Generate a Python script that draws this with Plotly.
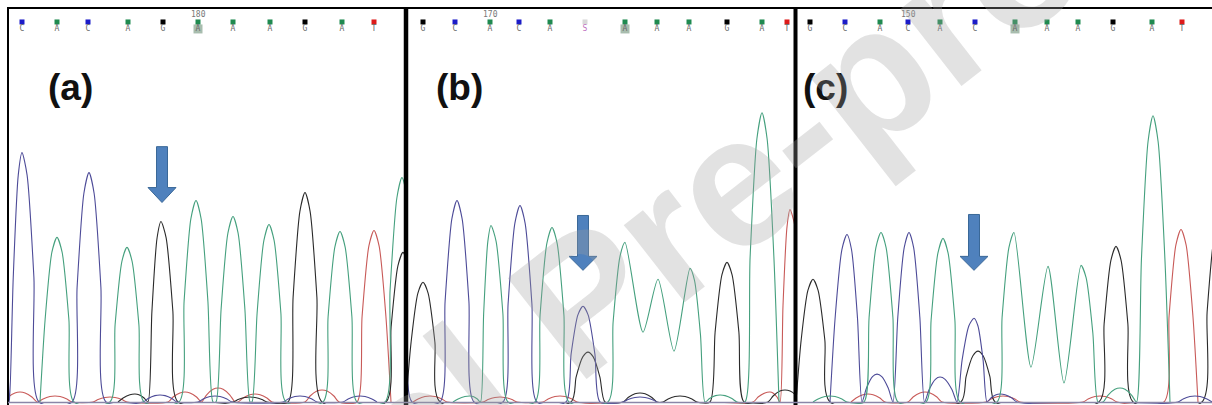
import plotly.graph_objects as go

# ---------------- data (scan position, signal height) ----------------
FOOT = 17  # half width of a peak foot, in scan units
# peak outline template: (fraction of foot width from apex, fraction of apex height)
PROFILE = [(0.3, 0.91), (0.7, 0.5), (1.0, 0.0)]

# Panel (a)
A_PEAKS_A = [(57, 165), (127, 155), (196, 202), (233, 186), (269, 178), (340, 171), (402, 225)]
A_PEAKS_C = [(-3, 220), (22, 250), (89, 230), (160, 7), (215, 6), (300, 6), (360, 6)]
A_PEAKS_G = [(135, 8), (161, 181), (250, 5), (305, 210), (403, 150)]
A_PEAKS_T = [(20, 10), (55, 6), (110, 5), (185, 10), (218, 14), (255, 8), (322, 12), (374, 172)]
A_VALLEYS = {"A": [], "C": [], "G": [], "T": []}

# Panel (b)
B_PEAKS_A = [(470, 6), (491, 177), (552, 175), (625, 160), (658, 123), (690, 134), (720, 7), (762, 290)]
B_PEAKS_C = [(395, 150), (457, 202), (520, 197), (583, 96), (640, 5)]
B_PEAKS_G = [(423, 120), (588, 50), (640, 9), (680, 6), (727, 140), (785, 12)]
B_PEAKS_T = [(430, 6), (500, 5), (560, 6), (770, 10), (790, 193)]
B_VALLEYS = {"A": [(643, 70), (674, 51)], "C": [], "G": [], "T": []}

# Panel (c)
C_PEAKS_A = [(830, 6), (881, 170), (943, 164), (1014, 170), (1048, 136), (1081, 137), (1120, 14), (1153, 287)]
C_PEAKS_C = [(847, 168), (877, 28), (909, 170), (940, 25), (974, 84), (1000, 8), (1195, 6)]
C_PEAKS_G = [(813, 123), (978, 51), (1116, 156), (1219, 180)]
C_PEAKS_T = [(868, 8), (925, 10), (1003, 6), (1100, 6), (1181, 173)]
C_VALLEYS = {"A": [(1031, 35), (1064, 19)], "C": [], "G": [], "T": []}

# base-call header rows
HDR_A_X = [22, 57, 88, 128, 163, 198, 233, 270, 305, 342, 374]
HDR_A_BASES = list("CACAGAAAGAT")
HDR_B_X = [423, 455, 490, 519, 550, 585, 625, 657, 689, 727, 762, 787]
HDR_B_BASES = list("GCACASAAAGAT")
HDR_C_X = [810, 845, 880, 908, 940, 975, 1015, 1047, 1078, 1113, 1152, 1182]
HDR_C_BASES = list("GCACACAAAGAT")
HDR_TICKS = [("180", 198), ("170", 490), ("150", 908)]
HDR_HIGHLIGHT = [198, 625, 1015]

# arrows: centre, top, head base, tip (heights)
ARROWS = [(162, 256, 215, 200), (583, 187, 146, 132), (974, 188, 146, 132)]
LABELS = [("(a)", 70), ("(b)", 459), ("(c)", 825)]

PANELS = [
    dict(peaks={"A": A_PEAKS_A, "C": A_PEAKS_C, "G": A_PEAKS_G, "T": A_PEAKS_T},
         valleys=A_VALLEYS, hx=HDR_A_X, hb=HDR_A_BASES, rng=(8, 405)),
    dict(peaks={"A": B_PEAKS_A, "C": B_PEAKS_C, "G": B_PEAKS_G, "T": B_PEAKS_T},
         valleys=B_VALLEYS, hx=HDR_B_X, hb=HDR_B_BASES, rng=(408, 795)),
    dict(peaks={"A": C_PEAKS_A, "C": C_PEAKS_C, "G": C_PEAKS_G, "T": C_PEAKS_T},
         valleys=C_VALLEYS, hx=HDR_C_X, hb=HDR_C_BASES, rng=(797, 1212)),
]

TRACE_COL = {"A": "#45a07e", "C": "#4d4b98", "G": "#2a2a2a", "T": "#c85a58"}
SQUARE_COL = {"A": "#1f8a50", "C": "#1c1cc8", "G": "#000000", "T": "#dd1a1a", "S": "#d9d9d9"}
LETTER_COL = {"A": "#6a6a6a", "C": "#6a6a6a", "G": "#6a6a6a", "T": "#6a6a6a", "S": "#c070c0"}

W, H = 1212, 405
YR = (-2, 395)


def channel_path(peaks, valleys):
    pk = sorted(peaks)
    pts = []
    for i, (x, h) in enumerate(pk):
        prev = pk[i - 1][0] if i > 0 else None
        nxt = pk[i + 1][0] if i < len(pk) - 1 else None
        lv = [v for v in valleys if prev is not None and prev < v[0] < x]
        rv = [v for v in valleys if nxt is not None and x < v[0] < nxt]
        if not lv:
            d = FOOT if prev is None else min(FOOT, (x - prev) / 2)
            for f, r in reversed(PROFILE):
                pts.append((x - f * d, r * h))
        pts.append((x, h))
        if rv:
            pts.append(rv[0])
        else:
            d = FOOT if nxt is None else min(FOOT, (nxt - x) / 2)
            for f, r in PROFILE:
                pts.append((x + f * d, r * h))
    out = []
    for p in pts:
        if out and abs(out[-1][0] - p[0]) < 1e-9:
            continue
        out.append(p)
    return [p[0] for p in out], [p[1] for p in out]


fig = go.Figure()
layout_axes = {}
for i, p in enumerate(PANELS):
    sfx = "" if i == 0 else str(i + 1)
    xa, ya = "x" + sfx, "y" + sfx
    for ch in ["T", "G", "C", "A"]:
        xs, ys = channel_path(p["peaks"][ch], p["valleys"][ch])
        fig.add_trace(go.Scatter(x=xs, y=ys, mode="lines", xaxis=xa, yaxis=ya,
                                 line=dict(color=TRACE_COL[ch], width=1.1, shape="spline", smoothing=0.7),
                                 hoverinfo="skip"))
    hl = [x for x in p["hx"] if x in HDR_HIGHLIGHT]
    if hl:
        fig.add_trace(go.Scatter(x=hl, y=[374] * len(hl), mode="markers", xaxis=xa, yaxis=ya,
                                 marker=dict(symbol="square", size=9, color="#a8bdae"),
                                 hoverinfo="skip", cliponaxis=False))
    fig.add_trace(go.Scatter(x=p["hx"], y=[381] * len(p["hx"]), mode="markers", xaxis=xa, yaxis=ya,
                             marker=dict(symbol="square", size=5, color=[SQUARE_COL[b] for b in p["hb"]]),
                             hoverinfo="skip", cliponaxis=False))
    fig.add_trace(go.Scatter(x=p["hx"], y=[374] * len(p["hx"]), mode="text", xaxis=xa, yaxis=ya,
                             text=p["hb"], textfont=dict(family="DejaVu Sans Mono", size=8,
                                                         color=[LETTER_COL[b] for b in p["hb"]]),
                             hoverinfo="skip", cliponaxis=False))
    x0, x1 = p["rng"]
    layout_axes["xaxis" + sfx] = dict(domain=[x0 / W, x1 / W], range=[x0, x1], visible=False, anchor=ya)
    layout_axes["yaxis" + sfx] = dict(domain=[1 / H, 397 / H], range=list(YR), visible=False, anchor=xa)

fig.update_layout(width=W, height=H, margin=dict(l=0, r=0, t=0, b=0),
                  paper_bgcolor="white", plot_bgcolor="white", showlegend=False, **layout_axes)


def panel_of(x):
    for i, p in enumerate(PANELS):
        if p["rng"][0] - 5 <= x <= p["rng"][1] + 20:
            return "" if i == 0 else str(i + 1)
    return ""


annotations = []
for txt, x in HDR_TICKS:
    s = panel_of(x)
    annotations.append(dict(x=x, y=388, xref="x" + s, yref="y" + s, text=txt, showarrow=False,
                            font=dict(family="DejaVu Sans Mono", size=8, color="#777777")))
for txt, x in LABELS:
    s = panel_of(x)
    annotations.append(dict(x=x, y=315, xref="x" + s, yref="y" + s, text="<b>%s</b>" % txt,
                            showarrow=False, xanchor="center", yanchor="middle",
                            font=dict(family="Liberation Sans, Arial", size=37, color="#111111")))
# watermark
annotations.append(dict(x=582 / W, y=1 - 300 / H, xref="paper", yref="paper",
                        xanchor="center", yanchor="middle",
                        text="<b>Journal Pre-proof</b>", showarrow=False, textangle=-38,
                        font=dict(family="Liberation Sans, Arial", size=186,
                                  color="rgba(160,160,160,0.30)")))
fig.update_layout(annotations=annotations)

shapes = []
for cx, top, hb, tip in ARROWS:
    s = panel_of(cx)
    sw, hw = 5.5, 14
    path = ("M %s,%s L %s,%s L %s,%s L %s,%s L %s,%s L %s,%s L %s,%s Z" %
            (cx - sw, top, cx + sw, top, cx + sw, hb, cx + hw, hb, cx, tip, cx - hw, hb, cx - sw, hb))
    shapes.append(dict(type="path", path=path, xref="x" + s, yref="y" + s,
                       fillcolor="#4f81bd", line=dict(color="#3a6898", width=1)))


def px(x):
    return x / W


def py(y):
    return 1 - y / H


shapes.append(dict(type="line", xref="paper", yref="paper", x0=px(7), x1=1, y0=py(8), y1=py(8),
                   line=dict(color="#000000", width=2)))
shapes.append(dict(type="line", xref="paper", yref="paper", x0=px(8), x1=px(8), y0=py(8), y1=py(405),
                   line=dict(color="#000000", width=2)))
shapes.append(dict(type="line", xref="paper", yref="paper", x0=px(406), x1=px(406), y0=py(8), y1=py(405),
                   line=dict(color="#000000", width=4.5)))
shapes.append(dict(type="line", xref="paper", yref="paper", x0=px(795.5), x1=px(795.5), y0=py(8), y1=py(405),
                   line=dict(color="#000000", width=4)))
shapes.append(dict(type="line", xref="paper", yref="paper", x0=px(8), x1=1, y0=py(402.5), y1=py(402.5),
                   line=dict(color="#8a86a8", width=1.5)))
fig.update_layout(shapes=shapes)

fig.write_html("out.html", config={"displayModeBar": False},
               post_script="document.body.style.margin='0';document.body.style.overflow='hidden';")
